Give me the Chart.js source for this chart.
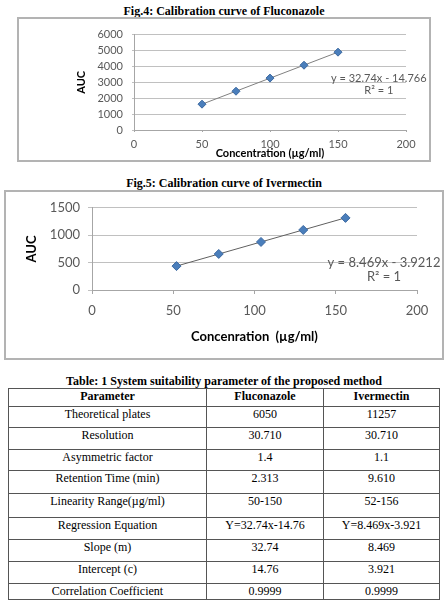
<!DOCTYPE html>
<html><head><meta charset="utf-8">
<script src="https://cdn.jsdelivr.net/npm/chart.js@4.4.1/dist/chart.umd.min.js"></script>
<style>
html,body{margin:0;padding:0;background:#fff;width:448px;height:610px;overflow:hidden;position:relative;}
.cap{position:absolute;left:0;width:448px;text-align:center;font-family:"Liberation Serif","Times New Roman",serif;font-weight:bold;font-size:12px;line-height:13px;color:#000;white-space:nowrap;}
.frame{position:absolute;border:2px solid #b3b3b3;}
.frame canvas{display:block;}
table{position:absolute;left:8px;top:388px;width:431px;border-collapse:collapse;font-family:"Liberation Serif","Times New Roman",serif;font-size:12px;color:#000;table-layout:fixed;}
td,th{border:1px solid #555;text-align:center;vertical-align:top;padding:0;line-height:15px;white-space:nowrap;}
th{font-weight:bold;}
tr:nth-child(1){height:22px;} tr:nth-child(2){height:18px;} tr:nth-child(3){height:21px;}
tr:nth-child(4){height:22px;} tr:nth-child(5){height:21px;} tr:nth-child(6){height:23px;}
tr:nth-child(7){height:24px;} tr:nth-child(8){height:22px;} tr:nth-child(9){height:22px;} tr:nth-child(10){height:22px;}
</style></head>
<body>
<div class="cap" style="top:5px;">Fig.4: Calibration curve of Fluconazole</div>
<div class="frame" style="left:17px;top:17px;width:410px;height:141px;"><canvas id="c1" width="410" height="141" style="width:410px;height:141px;"></canvas></div>
<div class="cap" style="top:177px;">Fig.5: Calibration curve of Ivermectin</div>
<div class="frame" style="left:4px;top:190px;width:436px;height:166px;"><canvas id="c2" width="436" height="166" style="width:436px;height:166px;"></canvas></div>
<div class="cap" style="top:375px;">Table: 1 System suitability parameter of the proposed method</div>
<table id="tbl"></table>
<script>
// ---- Data: Fig.4 Fluconazole ----
const flucConc = [50, 75, 100, 125, 150];
const flucAUC = [1625, 2440, 3265, 4075, 4895];
const flucTrendConc = [50, 150];
const flucTrendAUC = [1622, 4896];
const flucXTicks = [0, 50, 100, 150, 200];
const flucYTicks = [0, 1000, 2000, 3000, 4000, 5000, 6000];
const flucEquation = ['y = 32.74x - 14.766', 'R² = 1'];

// ---- Data: Fig.5 Ivermectin ----
const iverConc = [52, 78, 104, 130, 156];
const iverAUC = [436, 658, 877, 1096, 1316];
const iverTrendConc = [52, 156];
const iverTrendAUC = [436.5, 1317];
const iverXTicks = [0, 50, 100, 150, 200];
const iverYTicks = [0, 500, 1000, 1500];
const iverEquation = ['y = 8.469x - 3.9212', 'R² = 1'];

// ---- Data: Table 1 ----
const tableHeader = ['Parameter', 'Fluconazole', 'Ivermectin'];
const tableParams = ['Theoretical plates', 'Resolution', 'Asymmetric factor', 'Retention Time (min)', 'Linearity Range(µg/ml)', 'Regression Equation', 'Slope (m)', 'Intercept (c)', 'Correlation Coefficient'];
const tableFluc = ['6050', '30.710', '1.4', '2.313', '50-150', 'Y=32.74x-14.76', '32.74', '14.76', '0.9999'];
const tableIver = ['11257', '30.710', '1.1', '9.610', '52-156', 'Y=8.469x-3.921', '8.469', '3.921', '0.9999'];

// build table
(function(){
  const t = document.getElementById('tbl');
  const cg = document.createElement('colgroup');
  [198,117,116].forEach(w=>{const c=document.createElement('col');c.style.width=w+'px';cg.appendChild(c);});
  t.appendChild(cg);
  const hr = document.createElement('tr');
  tableHeader.forEach(h=>{const th=document.createElement('th');th.textContent=h;hr.appendChild(th);});
  t.appendChild(hr);
  tableParams.forEach((p,i)=>{
    const tr=document.createElement('tr');
    [p, tableFluc[i], tableIver[i]].forEach(v=>{const td=document.createElement('td');td.textContent=v;tr.appendChild(td);});
    t.appendChild(tr);
  });
})();

const eqPlugin = {
  id: 'eq',
  afterDatasetsDraw(chart, args, o) {
    if (!o || !o.lines) return;
    const ctx = chart.ctx;
    ctx.save();
    ctx.font = o.font;
    ctx.fillStyle = o.color;
    ctx.textAlign = 'center';
    ctx.textBaseline = 'middle';
    const x = chart.scales.x.getPixelForValue(o.x);
    const y = chart.scales.y.getPixelForValue(o.y);
    o.lines.forEach((t, i) => ctx.fillText(t, x, y + i * o.lh));
    ctx.restore();
  }
};

function makeChart(id, cfg) {
  const pts = cfg.xs.map((x, i) => ({x: x, y: cfg.ys[i]}));
  const trend = cfg.tx.map((x, i) => ({x: x, y: cfg.ty[i]}));
  return new Chart(document.getElementById(id), {
    type: 'scatter',
    data: {
      datasets: [
        {data: trend, showLine: true, pointRadius: 0, borderColor: cfg.trendColor, borderWidth: 1, order: 2},
        {data: pts, pointStyle: 'rectRot', pointRadius: cfg.pr, backgroundColor: '#4a7ebb', borderColor: '#3b68a0', borderWidth: 1, order: 1}
      ]
    },
    options: {
      responsive: false,
      animation: false,
      devicePixelRatio: 1,
      layout: {padding: cfg.pad},
      plugins: {
        legend: {display: false},
        tooltip: {enabled: false},
        eq: cfg.eq
      },
      scales: {
        x: {
          type: 'linear', min: 0, max: 200,
          afterBuildTicks: s => { s.ticks = cfg.xTicks.map(v => ({value: v})); },
          afterFit: s => { s.height = cfg.xh; },
          grid: {drawOnChartArea: false, drawTicks: true, tickLength: cfg.tl, color: '#a6a6a6'},
          border: {display: true, color: '#a6a6a6'},
          ticks: {autoSkip: false, padding: cfg.xpad, color: '#595959', font: {family: 'Lato', size: cfg.fs}, maxRotation: 0, callback: v => String(v)},
          title: {display: true, text: cfg.xTitle, color: '#000', font: {family: 'Lato', size: cfg.tfs, weight: 'bold', lineHeight: 1.2}, padding: {top: 0, bottom: cfg.xtp}}
        },
        y: {
          type: 'linear', min: cfg.yMin, max: cfg.yMax,
          afterBuildTicks: s => { s.ticks = cfg.yTicks.map(v => ({value: v})); },
          afterFit: s => { s.width = cfg.yw; },
          grid: {drawTicks: true, tickLength: cfg.tl, color: '#c0c0c0'},
          border: {display: true, color: '#a6a6a6'},
          ticks: {autoSkip: false, padding: cfg.ypad, color: '#595959', font: {family: 'Lato', size: cfg.fs}, callback: v => String(v)},
          title: {display: true, text: 'AUC', color: '#000', font: {family: 'Lato', size: cfg.tfs, weight: 'bold', lineHeight: 1.2}, padding: {top: 0, bottom: 0}}
        }
      }
    },
    plugins: [eqPlugin]
  });
}

makeChart('c1', {
  xs: flucConc, ys: flucAUC, tx: flucTrendConc, ty: flucTrendAUC,
  xTicks: flucXTicks, yTicks: flucYTicks, yMin: 0, yMax: 6000,
  trendColor: '#808080', pr: 4,
  pad: {left: 56, top: 6, right: 23, bottom: 0},
  xh: 30, yw: 59, tl: 2, xpad: 6, ypad: 9, fs: 11, tfs: 11, xtp: 0,
  xTitle: 'Concentration (µg/ml)',
  eq: {lines: flucEquation, x: 180, y: 3257, lh: 12, font: '11px Lato', color: '#595959'}
});

makeChart('c2', {
  xs: iverConc, ys: iverAUC, tx: iverTrendConc, ty: iverTrendAUC,
  xTicks: iverXTicks, yTicks: iverYTicks, yMin: 0, yMax: 1500,
  trendColor: '#606060', pr: 4.5,
  pad: {left: 18, top: 13, right: 25, bottom: 0},
  xh: 68, yw: 68, tl: 4, xpad: 9, ypad: 8, fs: 13, tfs: 13, xtp: 13,
  xTitle: 'Concenration  (µg/ml)',
  eq: {lines: iverEquation, x: 179.7, y: 494, lh: 14, font: '13px Lato', color: '#595959'}
});
</script>
</body></html>
